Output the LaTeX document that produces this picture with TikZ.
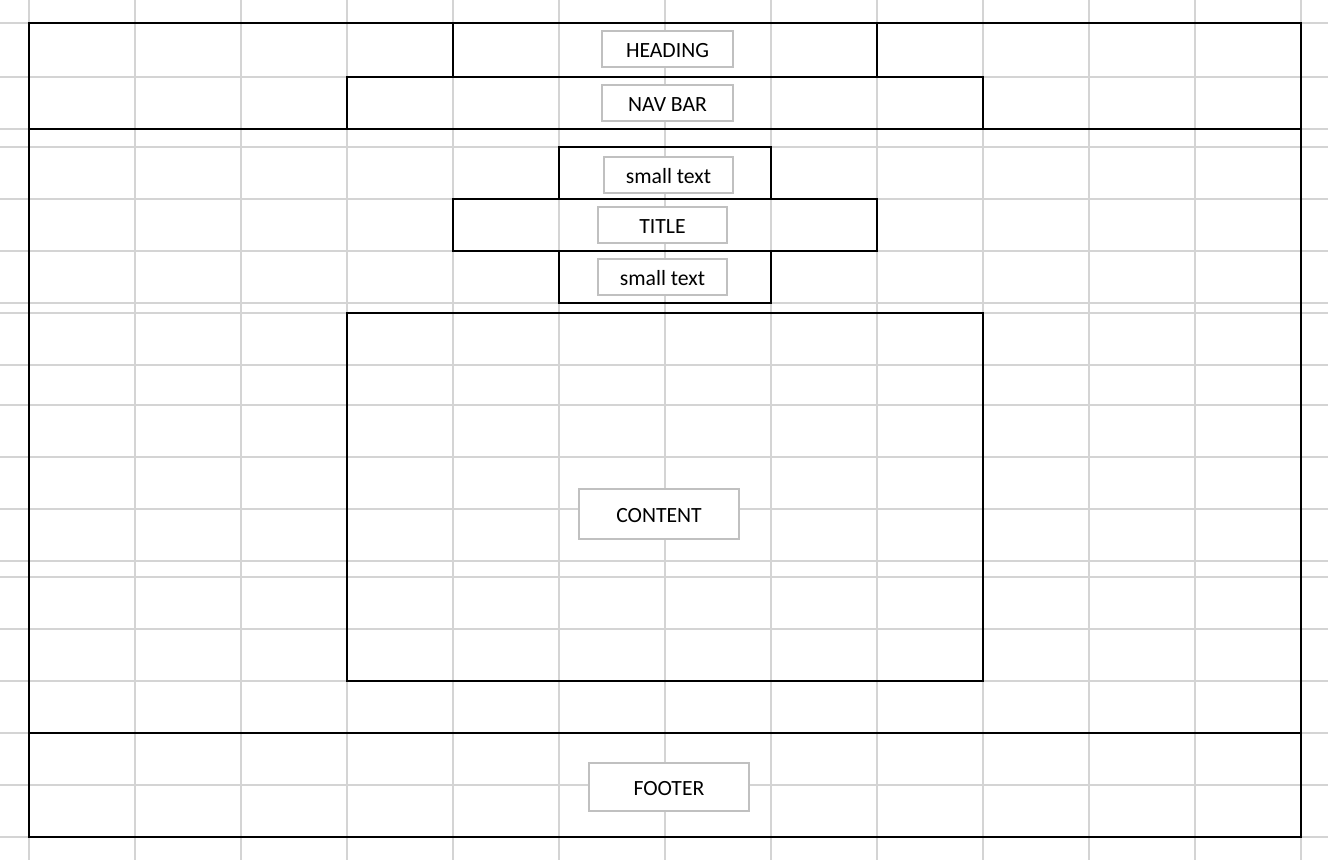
\documentclass[tikz,border=0pt]{standalone}
\usepackage{fontspec}
\setmainfont{Carlito}
\definecolor{gridgray}{RGB}{212,212,212}
\definecolor{boxgray}{RGB}{192,192,192}
\usetikzlibrary{positioning}

\begin{document}
\begin{tikzpicture}[x=1pt,y=-1pt,
    gridline/.style={draw=gridgray,line width=1.6pt},
    frame/.style={draw=black,line width=1.6pt},
    labelbox/.style={draw=boxgray,fill=white,line width=1.8pt,inner sep=0pt,
      minimum height=36,text height=17pt,text depth=0pt,
      font=\fontsize{21.7}{26}\selectfont},
    ]
    \useasboundingbox (0,0) rectangle (1328,860);
    \fill[white] (0,0) rectangle (1328,860);

    % the sheet grid
    \foreach \x in {29,135,...,1301}
    \draw[gridline] (\x,0) -- (\x,860);
    \foreach \y in {23,77,129,147,199,251,303,313,365,405,457,509,561,577,629,681,733,785,837}
    \draw[gridline] (0,\y) -- (1328,\y);

    % the page and its bands
    \draw[frame] (29,23) rectangle (1301,837);
    \draw[frame] (29,129) -- (1301,129);
    \draw[frame] (29,733) -- (1301,733);

    % the header blocks
    \draw[frame] (453,23) rectangle (877,77);
    \draw[frame] (347,77) rectangle (983,129);

    % the title blocks
    \draw[frame] (559,147) rectangle (771,199);
    \draw[frame] (453,199) rectangle (877,251);
    \draw[frame] (559,251) rectangle (771,303);

    % the content block
    \draw[frame] (347,313) rectangle (983,681);

    % the labels
    \node[labelbox,minimum width=131] (heading) at (667.5,49) {HEADING};
    \node[labelbox,minimum width=131] (navbar) at (667.5,103) {NAV BAR};
    \node[labelbox,minimum width=129] (smalltop) at (668.5,175) {small text};
    \node[labelbox,minimum width=129] (title) at (662.5,225) {TITLE};
    \node[labelbox,minimum width=129] (smallbot) at (662.5,277) {small text};
    \node[labelbox,minimum width=160,minimum height=50] (content) at (659,514) {CONTENT};
    \node[labelbox,minimum width=160,minimum height=48] (footer) at (669,787) {FOOTER};
\end{tikzpicture}
\end{document}
